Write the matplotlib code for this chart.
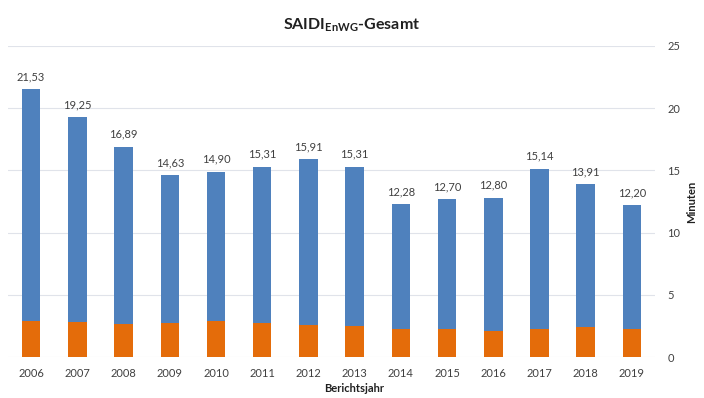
import numpy as np
import matplotlib.pyplot as plt

plt.rcParams['font.family'] = ['Lato', 'DejaVu Sans']
plt.rcParams['mathtext.fontset'] = 'custom'
plt.rcParams['mathtext.rm'] = 'Lato:bold'

years = ['2006', '2007', '2008', '2009', '2010', '2011', '2012',
         '2013', '2014', '2015', '2016', '2017', '2018', '2019']
total = [21.53, 19.25, 16.89, 14.63, 14.90, 15.31, 15.91,
         15.31, 12.28, 12.70, 12.80, 15.14, 13.91, 12.20]
# lower (orange) part of each bar
lower = [2.92, 2.81, 2.65, 2.71, 2.87, 2.71, 2.57,
         2.52, 2.22, 2.28, 2.12, 2.28, 2.38, 2.22]

blue = "#4f81bd"
orange = "#e46c0a"

fig = plt.figure(figsize=(7.04, 3.98), dpi=100)
ax = fig.add_axes([0.0114, 0.103, 0.919, 0.7816])

x = np.arange(len(years))
upper = np.array(total) - np.array(lower)
ax.bar(x, lower, width=0.4, color=orange, zorder=3)
ax.bar(x, upper, width=0.4, bottom=lower, color=blue, zorder=3)

for xi, t in zip(x, total):
    ax.annotate(f"{t:.2f}".replace('.', ','), (xi, t), xytext=(0, 5),
                textcoords='offset points', ha='center', va='bottom',
                fontsize=8, color='#404040')

ax.set_xlim(-0.5, len(years) - 0.5)
ax.set_ylim(0, 25)
ax.set_yticks([0, 5, 10, 15, 20, 25])
ax.set_xticks(x)
ax.set_xticklabels(years)
ax.yaxis.tick_right()
ax.yaxis.set_label_position('right')
ax.tick_params(axis='both', length=0, labelsize=8, colors='#404040')
ax.tick_params(axis='y', pad=9)
ax.tick_params(axis='x', pad=8)
ax.grid(axis='y', color='#e0e3ea', linewidth=0.8, zorder=0)
for s in ax.spines.values():
    s.set_visible(False)

ax.set_ylabel("Minuten", fontsize=8, fontweight='bold', color='#202020')
ax.yaxis.set_label_coords(1.048, 0.5)
ax.set_xlabel("Berichtsjahr", fontsize=8, fontweight='bold', color='#202020')
ax.xaxis.set_label_coords(0.535, -0.085)

fig.text(0.499, 0.938, r"SAIDI$_{\mathrm{EnWG}}$-Gesamt", ha='center',
         va='center', fontsize=11.5, fontweight='bold', color='#202020')

fig.savefig("out.png", dpi=100)
